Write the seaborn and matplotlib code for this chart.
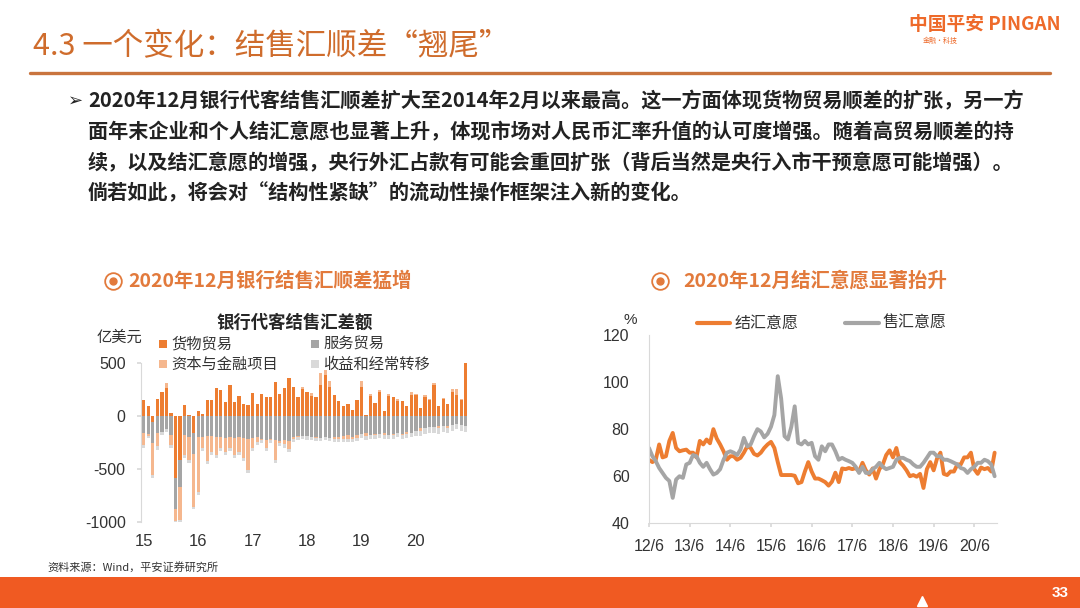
import numpy as np
import pandas as pd
import matplotlib
matplotlib.use('Agg')
import matplotlib.pyplot as plt
import seaborn as sns
from matplotlib.patches import Rectangle
from matplotlib.lines import Line2D

# ---- data: bank FX settlement balance by item, 2015-01 .. 2020-12 (100m USD)
goods = [145, 95, -60, 156, 228, 265, 30, -590, -420, 97, 10, -160,
         40, 15, 145, 145, 260, 245, 125, 290, 125, 190, 112, 103,
         210, 112, 205, 180, 180, 320, 205, 260, 360, 275, 180, 250,
         220, 190, 180, 290, 385, 275, 195, 135, 90, 110, 50, 150,
         275, 10, 190, 120, 220, 40, 190, 180, 135, 135, 90, 195,
         195, 70, 180, 150, 290, 90, 155, 112, 228, 195, 145, 500]
services = [-165, -170, -200, -160, -150, -130, -180, -290, -250, -180, -200, -200,
            -200, -200, -190, -190, -200, -200, -210, -200, -210, -200, -210, -220,
            -210, -200, -220, -230, -220, -230, -240, -230, -240, -200, -190, -190,
            -190, -200, -200, -210, -200, -210, -200, -200, -190, -180, -200, -180,
            -170, -160, -180, -170, -170, -160, -180, -170, -160, -170, -150, -160,
            -140, -120, -120, -110, -110, -100, -100, -100, -90, -80, -90, -100]
capital = [-110, -20, -300, -130, 0, 40, -100, -110, -310, -190, -220, -500,
           -520, -105, -240, -150, -170, -105, -130, -105, -160, -140, -190, -290,
           -90, -50, -10, -70, -10, -190, -20, -40, -70, -20, -10, 25,
           -5, 25, -10, 110, 50, 50, -20, -20, -30, -40, -20, -30,
           50, -30, 15, -10, 20, -20, 10, -10, 20, -10, -20, 30,
           10, -20, 15, 10, 20, -20, 10, -15, 20, 60, 10, 20]
income = [-30, -20, -30, -30, -30, -20, -25, -20, -20, -30, -25, -20] + [-30] * 36 + [-40] * 12 + [-50] * 12
bar_names = ['货物贸易', '服务贸易', '资本与金融项目', '收益和经常转移']
year_labels = ['15', '16', '17', '18', '19', '20']

# ---- data: FX settlement / sales willingness, 2012-06 .. 2020-12 (%)
settle = [67, 66, 67, 73.5, 68, 68.5, 75,
          78.4, 72, 70.6, 71, 71.3, 70, 70, 68, 75, 73.5, 75.6, 74,
          80, 76, 73.5, 70.6, 67, 68.5, 68.5, 67, 67.8, 70, 72.7, 72,
          69.5, 68.8, 70, 72, 73.5, 74.6, 72, 66, 60.5, 60.5, 60.5, 60.5,
          60.2, 57, 57.5, 62, 66, 62, 59, 59, 58.3, 57.5, 56, 57.7,
          61.5, 57.5, 63.3, 63, 63.5, 63, 63.5, 62, 65.7, 62.5, 60.7, 63.3,
          59, 63, 65, 69, 71, 68, 72, 66, 64.5, 62.5, 60, 60.5,
          59.8, 61, 55, 63, 66, 62.5, 67.5, 70, 61, 60.5, 62, 62,
          65, 65, 68, 68, 70, 63, 61, 63.7, 63, 63.5, 62, 70]
sell = [72, 68.5, 66.4, 63.5, 61.4, 59.3, 58,
        50.8, 58.6, 60, 59.3, 65, 65.7, 69, 68.5, 65.7, 64, 65.7, 63,
        60.7, 61.4, 63, 67, 70, 70.6, 70, 69, 71.3, 76.3, 72.7, 73.5,
        77, 80, 79, 76.5, 78, 81, 86, 102.5, 93, 77, 75.6, 81,
        89.7, 74.2, 73.5, 75, 73.5, 74.2, 68.5, 67, 72.7, 70.6, 73.5, 73.5,
        70.6, 67, 67.8, 67, 66.4, 65.7, 64, 61.4, 64, 61.4, 61.4, 63,
        64, 65.7, 64, 63, 63.5, 64, 67, 67.8, 67.8, 67, 66.4, 65,
        64, 64, 65.7, 67.8, 70, 70, 68.5, 68.5, 67, 67, 66.4, 65.7,
        65, 63.5, 63, 61.4, 63, 64, 65.7, 65.7, 67, 66.4, 65, 60]
line_names = ['结汇意愿', '售汇意愿']
month_labels = ['12/6', '13/6', '14/6', '15/6', '16/6', '17/6', '18/6', '19/6', '20/6']

sns.set_theme(style='white')
plt.rcParams['font.family'] = ['Noto Sans CJK SC', 'DejaVu Sans']

W, H = 1080, 608
def fx(x):
    return x / W
def fy(y):
    return 1 - y / H

fig = plt.figure(figsize=(10.8, 6.08), dpi=100)
fig.patch.set_facecolor('white')

ORANGE = '#ED7D31'
GRAY = '#A5A5A5'
LORANGE = '#F5B78E'
LGRAY = '#D9D9D9'
TITLE_C = '#CF6C2C'
SUB_C = '#E27A3C'
TXT = '#222222'
NUM_FONT = ['Liberation Sans', 'DejaVu Sans']

# ---- header
fig.text(fx(33), fy(47), '4.3 一个变化：结售汇顺差“翘尾”', fontsize=22, color=TITLE_C,
         va='center', ha='left')
fig.add_artist(Line2D([fx(30), fx(1050)], [fy(73), fy(73)], color='#C9743E', lw=2.4))
fig.text(fx(985), fy(25), '中国平安 PINGAN', fontsize=13.5, color='#EE6A2A', weight='bold',
         va='center', ha='center')
fig.text(fx(940), fy(41), '金融·科技', fontsize=5, color='#EE6A2A', va='center', ha='center')

# ---- bullet text
lines = ['2020年12月银行代客结售汇顺差扩大至2014年2月以来最高。这一方面体现货物贸易顺差的扩张，另一方',
         '面年末企业和个人结汇意愿也显著上升，体现市场对人民币汇率升值的认可度增强。随着高贸易顺差的持',
         '续，以及结汇意愿的增强，央行外汇占款有可能会重回扩张（背后当然是央行入市干预意愿可能增强）。',
         '倘若如此，将会对“结构性紧缺”的流动性操作框架注入新的变化。']
fig.text(fx(68), fy(101), '➢', fontsize=13, color=TXT, va='center', ha='left',
         family=['DejaVu Sans'])
for i, t in enumerate(lines):
    fig.text(fx(88), fy(101 + 30.7 * i), t, fontsize=14.5, color=TXT, weight='bold',
             va='center', ha='left')

# ---- subtitles with circle icons
for cx, tx, t in [(113, 128, '2020年12月银行结售汇顺差猛增'), (660, 683, '2020年12月结汇意愿显著抬升')]:
    fig.add_artist(Line2D([fx(cx)], [fy(281)], marker='o', markersize=12, markerfacecolor='white',
                          markeredgecolor=SUB_C, markeredgewidth=1.3))
    fig.add_artist(Line2D([fx(cx)], [fy(281)], marker='o', markersize=5, color=SUB_C))
    fig.text(fx(tx), fy(281), t, fontsize=14, color=SUB_C, weight='bold', va='center', ha='left')

# ---- left chart: stacked bars
ax1 = fig.add_axes([fx(141), fy(521.7), (469 - 141) / W, (521.7 - 362.7) / H])
x = np.arange(len(goods))
pos_b = np.zeros(len(goods))
neg_b = np.zeros(len(goods))
for vals, col in zip([goods, services, capital, income], [ORANGE, GRAY, LORANGE, LGRAY]):
    v = np.array(vals, dtype=float)
    bottom = np.where(v >= 0, pos_b, neg_b)
    ax1.bar(x, v, bottom=bottom, width=0.72, color=col, linewidth=0)
    pos_b += np.clip(v, 0, None)
    neg_b += np.clip(v, None, 0)
ax1.set_xlim(-0.6, len(goods) - 0.3)
ax1.set_ylim(-1000, 500)
ax1.set_yticks([500, 0, -500, -1000])
ax1.set_yticklabels(['500', '0', '-500', '-1000'], fontsize=11.5, color='#333333', family=NUM_FONT)
ax1.set_xticks(np.arange(0, 72, 12))
ax1.set_xticklabels(year_labels, fontsize=12, color='#333333', family=NUM_FONT)
ax1.tick_params(axis='x', length=0, pad=9)
ax1.tick_params(axis='y', length=3, color=LGRAY, pad=8, left=True)
for s in ['top', 'right', 'bottom']:
    ax1.spines[s].set_visible(False)
ax1.spines['left'].set_color(LGRAY)
ax1.spines['left'].set_linewidth(0.8)
ax1.patch.set_alpha(0)

fig.text(fx(295), fy(323), '银行代客结售汇差额', fontsize=12.5, weight='bold', color='#262626',
         ha='center', va='center')
fig.text(fx(97), fy(337), '亿美元', fontsize=11, color='#333333', ha='left', va='center')
for (lx, ly), name, col in zip([(163, 344), (315, 344), (163, 364), (315, 364)], bar_names,
                               [ORANGE, GRAY, LORANGE, LGRAY]):
    fig.add_artist(Rectangle((fx(lx - 4), fy(ly + 4)), 8 / W, 8 / H, color=col, lw=0))
    fig.text(fx(lx + 8), fy(ly), name, fontsize=11, color='#333333', ha='left', va='center')

# ---- right chart: lines
ax2 = fig.add_axes([fx(649), fy(523.3), (997 - 649) / W, (523.3 - 335) / H])
n = len(settle)
df = pd.DataFrame({'idx': list(range(n)) * 2,
                   'value': settle + sell,
                   'series': [line_names[0]] * n + [line_names[1]] * n})
sns.lineplot(data=df, x='idx', y='value', hue='series', palette=[ORANGE, GRAY],
             linewidth=2.8, legend=False, ax=ax2)
ax2.set_xlim(0, n - 0.3)
ax2.set_ylim(40, 120)
ax2.set_yticks([40, 60, 80, 100, 120])
ax2.set_yticklabels(['40', '60', '80', '100', '120'], fontsize=11.5, color='#333333', family=NUM_FONT)
ax2.set_xticks(np.arange(0, n, 12))
ax2.set_xticklabels(month_labels, fontsize=11.5, color='#333333', family=NUM_FONT)
ax2.set_xlabel('')
ax2.set_ylabel('')
ax2.tick_params(axis='x', length=3, color=LGRAY, pad=8, bottom=True)
ax2.tick_params(axis='y', length=0, pad=14)
for s in ['top', 'right']:
    ax2.spines[s].set_visible(False)
for s in ['left', 'bottom']:
    ax2.spines[s].set_color(LGRAY)
    ax2.spines[s].set_linewidth(0.8)
ax2.patch.set_alpha(0)

fig.text(fx(630), fy(320), '%', fontsize=11, color='#333333', ha='center', va='center',
         family=NUM_FONT)
for (x0, x1, tx), name, col in zip([(697, 730, 735), (845, 879, 882)], line_names, [ORANGE, GRAY]):
    fig.add_artist(Line2D([fx(x0), fx(x1)], [fy(323), fy(323)], color=col, lw=3))
    fig.text(fx(tx), fy(323), name, fontsize=11.5, color='#333333', ha='left', va='center')

# ---- footer
fig.text(fx(47), fy(567), '资料来源：Wind，平安证券研究所', fontsize=8, color='#333333',
         ha='left', va='center')
fig.add_artist(Rectangle((0, 0), 1, (608 - 577) / H, color='#F05A22', lw=0))
fig.add_artist(Line2D([fx(922)], [fy(601)], marker='^', markersize=7, color='white'))
fig.text(fx(1060), fy(593), '33', fontsize=11, color='white', weight='bold', ha='center',
         va='center', family=NUM_FONT)

fig.savefig('out.png', dpi=100)
